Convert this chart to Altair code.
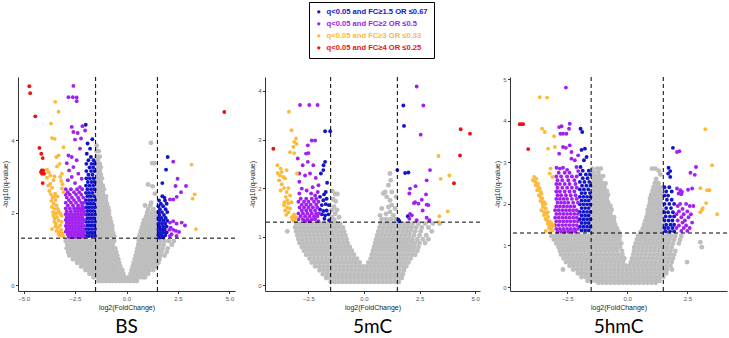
import altair as alt
import pandas as pd

# Significance classes shown in the legend, and their colours
CATEGORIES = [
    "q<0.05 and FC≥1.5 OR ≤0.67",
    "q<0.05 and FC≥2 OR ≤0.5",
    "q<0.05 and FC≥3 OR ≤0.33",
    "q<0.05 and FC≥4 OR ≤0.25",
]
COLORS = ["#1414C8", "#A020F0", "#FDB93A", "#EE1111"]
GRAY = "#BEBEBE"

# Cut-offs drawn as dashed guide lines
X_CUTS = [-1.5, 1.5]
Y_CUT = [1.3]

PANEL_TITLES = ["BS", "5mC", "5hmC"]

# Each block below is a set of rows "-log10(q): log2FC log2FC ..."
# ---------------------------------------------------------------- BS
BS_GRAY = """
3.93: 1.19
3.85: -1.45
3.7: -1.45 -1.35
3.55: -1.45 -1.3
3.45: -1.4
3.37: 1.25 1.35
3.35: -1.45 -1.3
3.25: -1.4 -1.25
3.15: -1.45 -1.3
3.05: -1.4 -1.25
2.95: -1.45 -1.3 -1.2
2.85: -1.4 -1.25
2.78: 1.05
2.75: -1.45 -1.3 -1.15
2.73: 1.27
2.65: -1.4 -1.25 -1.1
2.55: -1.45 -1.3 -1.15
2.53: 1.38
2.45: -1.4 -1.25 -1.1 -1.0
2.35: -1.45 -1.3 -1.15 -1.0
2.28: 1.2
2.25: -1.4 -1.25 -1.1 -0.95
2.2: 0.9 1.15
2.15: -1.45 -1.3 -1.15 -1.0 -0.9
2.1: 1.05 1.3
2.05: -1.4 -1.25 -1.1 -0.95 -0.85
2.0: 1.0 1.2 1.4
1.95: -1.45 -1.3 -1.15 -1.0 -0.85
1.9: 0.95 1.1 1.3 1.45
1.85: -1.4 -1.25 -1.1 -0.95 -0.8
1.8: 0.85 1.0 1.15 1.3 1.45
1.75: -1.45 -1.3 -1.15 -1.0 -0.85 -0.75
1.7: 0.8 0.95 1.1 1.25 1.4
1.65: -1.4 -1.25 -1.1 -0.95 -0.8 -0.7
1.6: 0.75 0.9 1.05 1.2 1.35 1.45
1.55: -1.45 -1.3 -1.15 -1.0 -0.85 -0.7
1.5: 0.7 0.85 1.0 1.15 1.3 1.45
1.45: -1.4 -1.25 -1.1 -0.95 -0.8 -0.65
1.4: 0.65 0.8 0.95 1.1 1.25 1.4
1.35: -1.45 -1.3 -1.15 -1.0 -0.85 -0.7 -0.6
1.32: 0.6 0.75 0.9 1.05 1.2 1.35 1.45
1.22: -2.95 -2.78 -2.61 -2.44 -2.27 -2.1 -1.93 -1.76 -1.59 -1.42 -1.25 -1.08 -0.91 -0.74 -0.6 0.6 0.77 0.94 1.11 1.28 1.45 1.65 1.85 2.05 2.3
1.12: -2.88 -2.71 -2.54 -2.37 -2.2 -2.03 -1.86 -1.69 -1.52 -1.35 -1.18 -1.01 -0.84 -0.67 0.57 0.74 0.91 1.08 1.25 1.42 1.6 1.8 2.2
1.02: -2.9 -2.73 -2.56 -2.39 -2.22 -2.05 -1.88 -1.71 -1.54 -1.37 -1.2 -1.03 -0.86 -0.69 -0.55 0.53 0.7 0.87 1.04 1.21 1.38 1.55 1.75 2.0
0.92: -2.83 -2.66 -2.49 -2.32 -2.15 -1.98 -1.81 -1.64 -1.47 -1.3 -1.13 -0.96 -0.79 -0.62 -0.5 0.5 0.67 0.84 1.01 1.18 1.35 1.52 1.7 1.95
0.82: -2.78 -2.61 -2.44 -2.27 -2.1 -1.93 -1.76 -1.59 -1.42 -1.25 -1.08 -0.91 -0.74 -0.57 -0.45 0.45 0.62 0.79 0.96 1.13 1.3 1.47 1.65 1.85
0.72: -2.6 -2.43 -2.26 -2.09 -1.92 -1.75 -1.58 -1.41 -1.24 -1.07 -0.9 -0.73 -0.56 -0.4 0.4 0.57 0.74 0.91 1.08 1.25 1.42 1.6
0.62: -2.4 -2.23 -2.06 -1.89 -1.72 -1.55 -1.38 -1.21 -1.04 -0.87 -0.7 -0.53 -0.36 0.35 0.52 0.69 0.86 1.03 1.2 1.37 1.55
0.52: -2.2 -2.03 -1.86 -1.69 -1.52 -1.35 -1.18 -1.01 -0.84 -0.67 -0.5 -0.3 0.3 0.47 0.64 0.81 0.98 1.15 1.32 1.45
0.42: -2.0 -1.83 -1.66 -1.49 -1.32 -1.15 -0.98 -0.81 -0.64 -0.47 -0.3 -0.2 0.25 0.42 0.59 0.76 0.93 1.1 1.3
0.32: -1.8 -1.63 -1.46 -1.29 -1.12 -0.95 -0.78 -0.61 -0.44 -0.27 -0.15 0.2 0.37 0.54 0.71 0.88 1.05
0.22: -1.6 -1.43 -1.26 -1.09 -0.92 -0.75 -0.58 -0.41 -0.24 -0.07 0.1 0.27 0.44 0.61 0.78 0.9
0.12: -1.35 -1.18 -1.01 -0.84 -0.67 -0.5 -0.33 -0.16 0.0 0.17 0.34 0.5
"""

BS_BLUE = """
4.43: -1.98
4.03: -1.66
3.91: -1.89
3.77: -1.77
3.63: -1.93
3.54: -1.73 2.0
3.45: -1.85 -1.6
3.35: -1.95 -1.7 -1.55
3.25: -1.8 -1.62
3.19: 1.92
3.15: -1.95 -1.72 -1.55
3.05: -1.85 -1.65
2.95: -1.95 -1.78 -1.6
2.85: -1.88 -1.7 -1.55
2.82: 1.74
2.75: -1.97 -1.8 -1.62
2.65: -1.9 -1.72 -1.55
2.55: -1.97 -1.82 -1.65
2.46: -1.9 -1.75 -1.58 1.74
2.42: 1.84
2.35: -1.97 -1.82 -1.68 -1.53
2.34: 1.58 1.87
2.25: -1.9 -1.75 -1.6 1.67 1.95
2.18: 1.55 1.78
2.15: -1.97 -1.83 -1.68 -1.53
2.1: 1.62 1.9
2.05: -1.9 -1.75 -1.6
2.02: 1.55 1.72 1.98
1.95: -1.97 -1.83 -1.68 -1.53
1.94: 1.6 1.82
1.86: 1.55 1.7 1.9
1.85: -1.9 -1.75 -1.6
1.78: 1.62 1.8 1.98
1.75: -1.97 -1.83 -1.68 -1.53
1.7: 1.55 1.72 1.88
1.65: -1.9 -1.75 -1.6
1.62: 1.6 1.78 1.95
1.55: -1.97 -1.83 -1.68 -1.53
1.54: 1.55 1.7 1.85
1.46: 1.62 1.78 1.95
1.45: -1.9 -1.75 -1.6
1.38: 1.55 1.7 1.88
1.36: -1.97 -1.83 -1.68 -1.53
1.32: 1.6 1.78
"""

BS_PURPLE = """
5.5: -2.58
5.19: -2.82 -2.61
5.18: -2.42
5.08: -2.42
4.39: -2.14
4.37: -2.66
4.27: -2.01
4.23: -2.58
4.2: -2.37
4.05: -2.21
4.02: -2.5
3.77: -2.26
3.58: -2.82
3.54: -2.66
3.45: -2.42
3.41: 2.27
3.37: -2.9
3.26: -2.58
3.17: -2.79
3.08: -2.34
2.99: -2.66
2.94: -2.18 2.48
2.9: -2.85
2.82: -2.5
2.74: 2.38 2.89
2.71: -2.26
2.65: -2.95 -2.7 -2.4 -2.15
2.57: -2.85 -2.55 -2.3 2.65
2.5: -2.95 -2.75 -2.45 -2.2
2.44: 2.44
2.42: -2.9 -2.65 -2.35 -2.1
2.37: 2.11 2.27
2.35: -2.8 -2.55 -2.3
2.28: -2.95 -2.7 -2.45 -2.2 -2.05
2.2: -2.85 -2.6 -2.35 -2.15
2.12: -2.95 -2.75 -2.55 -2.4 -2.25 -2.1
2.04: -2.9 -2.7 -2.5 -2.35 -2.2 -2.05
1.96: -2.95 -2.8 -2.65 -2.5 -2.35 -2.2 -2.05
1.88: -2.9 -2.75 -2.6 -2.45 -2.3 -2.15
1.8: -2.95 -2.8 -2.65 -2.5 -2.35 -2.2 -2.05
1.77: 2.27
1.73: 2.11 2.68
1.72: -2.9 -2.75 -2.6 -2.45 -2.3 -2.15
1.7: 2.43
1.65: 2.84
1.64: -2.95 -2.8 -2.65 -2.5 -2.35 -2.2 -2.05
1.59: 2.15
1.56: -2.9 -2.75 -2.6 -2.45 -2.3 -2.15
1.53: 2.08 2.27
1.5: 2.4
1.48: -2.95 -2.8 -2.65 -2.5 -2.35 -2.2 -2.05
1.47: 2.55
1.41: 2.19
1.4: -2.85 -2.7 -2.55 -2.4 -2.25 -2.1
1.36: 2.11 2.43
1.33: -2.8 -2.65 -2.5 -2.35 -2.2 -2.05
"""

BS_ORANGE = """
5.06: -3.46
4.79: -3.3
4.46: -3.67
4.06: -3.62
4.04: -3.49
3.81: -3.06
3.58: -3.3
3.54: -3.41
3.35: -3.25
3.33: 3.16
3.28: -3.38
3.19: -3.86
3.12: -3.78
3.08: -3.98 -3.14
3.03: -3.7
3.0: -3.5
2.99: -3.22
2.97: -3.86
2.9: -3.55
2.88: -3.17
2.8: -3.7
2.79: -3.11
2.75: -3.8
2.69: -3.62
2.67: -3.14
2.6: -3.75
2.57: -3.06
2.53: -3.46
2.51: -3.67 3.31
2.45: -3.5 -3.35
2.42: -3.59
2.39: 3.21
2.35: -3.45
2.33: -3.65
2.25: -3.54
2.2: -3.4
2.16: -3.62
2.11: -3.49 -3.33
2.05: -3.3
2.02: -3.57
1.98: -3.43 -3.22
1.92: -3.55 -3.15
1.88: -3.38
1.84: -3.49
1.79: -3.3
1.75: -3.5 -3.15
1.7: -3.43
1.65: -3.22
1.62: -3.45
1.59: -3.33
1.55: -3.62 3.37
1.53: -3.17
1.5: -3.4
1.47: -3.27
1.43: -3.11
1.4: -3.3
1.37: -3.22
1.35: -3.06
"""

BS_RED = """
5.49: -4.72
5.3: -4.68
4.78: 4.75
4.66: -4.43
3.79: -4.23
3.63: -4.14
3.51: -4.07
3.17: -4.12 -4.05
3.12: -4.15
3.08: -4.1 -4.02
2.82: -4.07
"""

# ---------------------------------------------------------------- 5mC
MC_GRAY = """
2.3: 1.17
2.16: 1.2
2.06: 1.1
1.94: -1.43
1.92: 0.95 1.25
1.89: 0.87
1.88: -1.3 -1.2
1.82: 1.02 1.44
1.77: -1.4
1.75: 1.17
1.73: -1.28
1.65: 1.25
1.62: -1.35
1.61: 1.1
1.58: 0.8 1.4
1.55: -1.45 -1.22
1.51: 1.17
1.47: -1.3 0.99
1.44: 0.72 1.32
1.4: -1.45 -1.12
1.36: 0.8 1.0 1.2 1.42
1.35: -1.33
1.27: -3.05 -2.87 -2.69 -2.51 -2.33 -2.15 -1.97 -1.79 -1.61 -1.43 -1.25 -1.07 0.75 0.93 1.11 1.29 1.47 1.65 1.83 2.01 2.2 2.45 2.75 3.1 3.4
1.19: -3.1 -2.92 -2.74 -2.56 -2.38 -2.2 -2.02 -1.84 -1.66 -1.48 -1.3 -1.12 -0.95 0.7 0.88 1.06 1.24 1.42 1.6 1.78 1.96 2.14 2.35 2.6 2.9
1.11: -3.45 -3.05 -2.87 -2.69 -2.51 -2.33 -2.15 -1.97 -1.79 -1.61 -1.43 -1.25 -1.07 -0.9 0.65 0.83 1.01 1.19 1.37 1.55 1.73 1.91 2.09 2.3 2.55 3.05
1.03: -3.0 -2.82 -2.64 -2.46 -2.28 -2.1 -1.92 -1.74 -1.56 -1.38 -1.2 -1.02 -0.84 0.6 0.78 0.96 1.14 1.32 1.5 1.68 1.86 2.04 2.25 2.5 2.8
0.95: -2.95 -2.77 -2.59 -2.41 -2.23 -2.05 -1.87 -1.69 -1.51 -1.33 -1.15 -0.97 -0.79 0.55 0.73 0.91 1.09 1.27 1.45 1.63 1.81 1.99 2.17 2.4 2.65 2.9
0.87: -2.9 -2.72 -2.54 -2.36 -2.18 -2.0 -1.82 -1.64 -1.46 -1.28 -1.1 -0.92 -0.74 0.5 0.68 0.86 1.04 1.22 1.4 1.58 1.76 1.94 2.12 2.3 2.5 2.75
0.79: -2.8 -2.62 -2.44 -2.26 -2.08 -1.9 -1.72 -1.54 -1.36 -1.18 -1.0 -0.82 -0.64 0.45 0.63 0.81 0.99 1.17 1.35 1.53 1.71 1.89 2.07 2.25 2.45
0.71: -2.7 -2.52 -2.34 -2.16 -1.98 -1.8 -1.62 -1.44 -1.26 -1.08 -0.9 -0.72 -0.55 0.4 0.58 0.76 0.94 1.12 1.3 1.48 1.66 1.84 2.02 2.2 2.4
0.63: -2.6 -2.42 -2.24 -2.06 -1.88 -1.7 -1.52 -1.34 -1.16 -0.98 -0.8 -0.62 -0.45 0.35 0.53 0.71 0.89 1.07 1.25 1.43 1.61 1.79 1.97 2.15 2.3
0.55: -2.45 -2.27 -2.09 -1.91 -1.73 -1.55 -1.37 -1.19 -1.01 -0.83 -0.65 -0.47 -0.32 0.3 0.48 0.66 0.84 1.02 1.2 1.38 1.56 1.74 1.92 2.1
0.47: -2.35 -2.17 -1.99 -1.81 -1.63 -1.45 -1.27 -1.09 -0.91 -0.73 -0.55 -0.37 -0.2 0.2 0.38 0.56 0.74 0.92 1.1 1.28 1.46 1.64 1.82 2.0
0.39: -2.2 -2.02 -1.84 -1.66 -1.48 -1.3 -1.12 -0.94 -0.76 -0.58 -0.4 -0.22 -0.05 0.12 0.3 0.48 0.66 0.84 1.02 1.2 1.38 1.56 1.74 1.9
0.31: -2.0 -1.82 -1.64 -1.46 -1.28 -1.1 -0.92 -0.74 -0.56 -0.38 -0.2 -0.02 0.16 0.34 0.52 0.7 0.88 1.06 1.24 1.42 1.6 1.8
0.23: -1.85 -1.67 -1.49 -1.31 -1.13 -0.95 -0.77 -0.59 -0.41 -0.23 -0.05 0.13 0.31 0.49 0.67 0.85 1.03 1.21 1.39 1.57 1.75
0.15: -1.7 -1.52 -1.34 -1.16 -0.98 -0.8 -0.62 -0.44 -0.26 -0.08 0.1 0.28 0.46 0.64 0.82 1.0 1.18 1.36 1.54 1.7
0.07: -1.5 -1.32 -1.14 -0.96 -0.78 -0.6 -0.42 -0.24 -0.06 0.12 0.3 0.48 0.66 0.84 1.02 1.2 1.38 1.56
"""

MC_BLUE = """
3.7: 1.77
3.28: 1.8
3.17: -1.75 -1.52
2.54: -1.75
2.47: -1.82
2.37: -1.83 1.5
2.32: 2.0
2.31: 1.85
2.3: -1.94
2.11: -1.66
1.92: -1.72
1.87: -1.8
1.82: -1.98
1.78: -1.68
1.75: -1.83
1.67: -1.72
1.65: -1.9 -1.58
1.56: -1.98
1.54: -1.68
1.53: -1.83
1.46: -1.9 -1.6
1.44: -1.75
1.42: 1.97
1.37: -1.78
1.35: 1.55
1.34: -1.57
1.32: 1.59
"""

MC_PURPLE = """
4.09: 2.37
3.71: -2.88 -2.46 -2.09
3.7: 2.67
3.1: 2.55
2.98: -2.35 -2.2
2.88: -2.53
2.72: -2.5
2.71: -2.61
2.61: -2.98
2.54: -2.53
2.47: -2.76 -2.28
2.37: 2.97
2.3: -2.91 -2.43
2.26: -2.65
2.21: -2.17
2.16: 2.82
2.13: -2.91
2.06: -2.05
2.04: 2.32
2.02: -2.31
1.99: -2.8 2.07
1.95: -2.58
1.92: -2.08
1.89: -2.91 -2.38 2.04
1.87: 2.79
1.85: -2.2
1.78: -2.85 -2.6 -2.35 -2.15
1.76: 2.6
1.72: -2.95 -2.7 -2.5 -2.25 -2.05
1.71: 2.3
1.69: 2.25
1.68: 2.45
1.66: -2.8 -2.6 -2.4 -2.15 2.82
1.65: 2.9
1.6: -2.9 -2.7 -2.5 -2.3 -2.1
1.54: -2.8 -2.6 -2.4 -2.2 2.64
1.48: -2.95 -2.75 -2.55 -2.35 -2.15 -2.02
1.47: 2.07
1.44: 2.15
1.42: -2.85 -2.65 -2.45 -2.25 -2.1
1.39: 2.82
1.37: 2.04
1.36: -2.95 -2.75 -2.55 -2.35 -2.2
1.34: 2.37 2.94
1.32: -2.65 -2.45 -2.05
"""

MC_ORANGE = """
3.57: -3.38
3.19: -3.26
3.02: -3.06
2.95: -3.14
2.91: -3.03
2.85: -3.18
2.74: -3.33
2.72: -3.14
2.66: 3.35
2.47: -3.9
2.4: -3.75
2.37: -3.48
2.33: -3.7
2.31: -3.88
2.3: -3.02
2.26: -3.78 3.84
2.23: -3.63
2.2: -3.55
2.19: 3.45
2.16: -3.82
2.08: -3.7
2.0: -3.6 -3.4
1.95: -3.75
1.92: -3.48
1.85: -3.33
1.82: -3.52
1.75: -3.45
1.71: -3.58 -3.26
1.69: -3.4
1.65: -3.6
1.6: -3.46
1.58: -3.33
1.54: -3.55
1.52: 3.77
1.5: -3.4
1.46: -3.14
1.45: -3.5
1.42: -3.18 3.39
1.4: -3.25 -3.05
1.37: -3.1
1.35: -3.22
1.33: -3.15
1.3: 3.35
"""

MC_RED = """
3.21: 4.35
3.12: 4.77
2.81: -4.08
2.67: 4.32
2.1: 4.05
"""

# ---------------------------------------------------------------- 5hmC
HMC_GRAY = """
2.85: -1.45 -1.25 -1.1 1.03 1.17
2.8: 1.31
2.76: -1.4 -1.2
2.71: 1.38
2.67: -1.45 -1.3 -1.15 -1.0
2.6: 1.2
2.58: -1.4 -1.25 -1.1
2.5: 1.15 1.3
2.49: -1.45 -1.3 -1.15 -1.0 -0.9
2.4: -1.4 -1.25 -1.1 -0.95 1.1 1.25 1.4
2.31: -1.45 -1.3 -1.15 -1.0 -0.85 1.05 1.2 1.35
2.22: -1.4 -1.25 -1.1 -0.95 -0.8 1.0 1.15 1.3 1.45
2.13: -1.45 -1.3 -1.15 -1.0 -0.85 0.95 1.1 1.25 1.4
2.04: -1.4 -1.25 -1.1 -0.95 -0.8 0.95 1.1 1.25 1.4
1.95: -1.45 -1.3 -1.15 -1.0 -0.85 -0.7 0.9 1.05 1.2 1.35
1.86: -1.4 -1.25 -1.1 -0.95 -0.8 -0.65 0.85 1.0 1.15 1.3 1.45
1.77: -1.45 -1.3 -1.15 -1.0 -0.85 -0.7 0.85 1.0 1.15 1.3 1.45
1.68: -1.4 -1.25 -1.1 -0.95 -0.8 -0.65 -0.55 0.8 0.95 1.1 1.25 1.4
1.59: -1.45 -1.3 -1.15 -1.0 -0.85 -0.7 -0.55 0.75 0.9 1.05 1.2 1.35
1.5: -1.4 -1.25 -1.1 -0.95 -0.8 -0.65 -0.5 0.7 0.85 1.0 1.15 1.3 1.45
1.41: -1.45 -1.3 -1.15 -1.0 -0.85 -0.7 -0.55 -0.42 0.65 0.8 0.95 1.1 1.25 1.4
1.32: -1.4 -1.25 -1.1 -0.95 -0.8 -0.65 -0.5 -0.36 0.55 0.7 0.85 1.0 1.15 1.3 1.45
1.23: -3.15 -2.98 -2.81 -2.64 -2.47 -2.3 -2.13 -1.96 -1.79 -1.62 -1.45 -1.28 -1.11 -0.94 -0.77 -0.6 -0.43 -0.3 0.45 0.62 0.79 0.96 1.13 1.3 1.47 1.64 1.81 2.0 2.25
1.14: -3.05 -2.88 -2.71 -2.54 -2.37 -2.2 -2.03 -1.86 -1.69 -1.52 -1.35 -1.18 -1.01 -0.84 -0.67 -0.5 -0.33 0.4 0.57 0.74 0.91 1.08 1.25 1.42 1.59 1.76 1.95 2.2
1.08: 3.04
1.05: -2.95 -2.78 -2.61 -2.44 -2.27 -2.1 -1.93 -1.76 -1.59 -1.42 -1.25 -1.08 -0.91 -0.74 -0.57 -0.4 -0.25 0.35 0.52 0.69 0.86 1.03 1.2 1.37 1.54 1.71 1.9 2.15
0.96: -2.85 -2.68 -2.51 -2.34 -2.17 -2.0 -1.83 -1.66 -1.49 -1.32 -1.15 -0.98 -0.81 -0.64 -0.47 -0.3 0.3 0.47 0.64 0.81 0.98 1.15 1.32 1.49 1.66 1.85 3.1
0.87: -2.8 -2.63 -2.46 -2.29 -2.12 -1.95 -1.78 -1.61 -1.44 -1.27 -1.1 -0.93 -0.76 -0.59 -0.42 -0.22 0.28 0.45 0.62 0.79 0.96 1.13 1.3 1.47 1.64 1.8 2.0
0.78: -2.75 -2.58 -2.41 -2.24 -2.07 -1.9 -1.73 -1.56 -1.39 -1.22 -1.05 -0.88 -0.71 -0.54 -0.37 -0.2 0.25 0.42 0.59 0.76 0.93 1.1 1.27 1.44 1.61 1.78 1.95
0.69: -2.65 -2.48 -2.31 -2.14 -1.97 -1.8 -1.63 -1.46 -1.29 -1.12 -0.95 -0.78 -0.61 -0.44 -0.27 -0.12 0.2 0.37 0.54 0.71 0.88 1.05 1.22 1.39 1.56 1.73 1.9
0.6: -2.55 -2.38 -2.21 -2.04 -1.87 -1.7 -1.53 -1.36 -1.19 -1.02 -0.85 -0.68 -0.51 -0.34 -0.17 0.15 0.32 0.49 0.66 0.83 1.0 1.17 1.34 1.51 1.68 1.85 2.49
0.51: -2.4 -2.23 -2.06 -1.89 -1.72 -1.55 -1.38 -1.21 -1.04 -0.87 -0.7 -0.53 -0.36 -0.19 -0.05 0.1 0.27 0.44 0.61 0.78 0.95 1.12 1.29 1.46 1.63 1.8
0.42: -2.67 -2.25 -2.08 -1.91 -1.74 -1.57 -1.4 -1.23 -1.06 -0.89 -0.72 -0.55 -0.38 -0.21 -0.04 0.13 0.3 0.47 0.64 0.81 0.98 1.15 1.32 1.49 1.66 1.86
0.33: -2.05 -1.88 -1.71 -1.54 -1.37 -1.2 -1.03 -0.86 -0.69 -0.52 -0.35 -0.18 -0.01 0.16 0.33 0.5 0.67 0.84 1.01 1.18 1.35 1.52 1.62
0.24: -1.9 -1.73 -1.56 -1.39 -1.22 -1.05 -0.88 -0.71 -0.54 -0.37 -0.2 -0.03 0.14 0.31 0.48 0.65 0.82 0.99 1.16 1.33 1.5
0.15: -1.65 -1.48 -1.31 -1.14 -0.97 -0.8 -0.63 -0.46 -0.29 -0.12 0.05 0.22 0.39 0.56 0.73 0.9 1.07 1.24 1.35
0.1: -1.2 -1.03 -0.86 -0.69 -0.52 -0.35 -0.18 -0.01 0.16 0.33 0.5 0.67 0.84 1.01 1.18
"""

HMC_BLUE = """
3.81: -1.94
3.73: -1.87
3.35: 1.9
3.33: -1.76
3.3: -1.9
3.13: -1.69
3.05: -1.8
2.89: -1.94
2.87: 1.72
2.8: -1.85 -1.6
2.79: 1.79
2.73: 1.7
2.71: -1.95 -1.72 -1.55
2.65: 1.79
2.62: -1.85 -1.65
2.53: -1.97 -1.78 -1.58
2.44: -1.88 -1.7 -1.53
2.4: 1.55 1.75
2.35: -1.97 -1.8 -1.62
2.3: 1.62 1.85
2.26: -1.9 -1.75 -1.55
2.2: 1.55 1.7
2.17: -1.97 -1.82 -1.67 -1.53
2.1: 1.65 1.85
2.08: -1.9 -1.75 -1.6
2.0: 1.55 1.75 1.95
1.99: -1.97 -1.82 -1.67 -1.53
1.9: -1.9 -1.75 -1.6 1.62 1.82
1.81: -1.97 -1.82 -1.67 -1.53
1.8: 1.55 1.7 1.9
1.72: -1.9 -1.75 -1.6
1.7: 1.6 1.78 1.95
1.63: -1.97 -1.82 -1.67 -1.53
1.6: 1.55 1.72 1.88
1.54: -1.9 -1.75 -1.6
1.5: 1.62 1.8 1.95
1.45: -1.97 -1.82 -1.67 -1.53
1.42: 1.55 1.7 1.88
1.36: -1.9 -1.75 -1.6
1.34: 1.6 1.78 1.95
"""

HMC_PURPLE = """
4.8: -2.55
3.93: -2.39
3.87: -2.73
3.85: -2.83
3.81: -2.42
3.69: -2.78 -2.67 -2.53
3.41: -2.39
3.37: -2.67
3.35: -2.55
3.27: 2.17
3.25: -2.32 2.07
3.21: -2.83
3.17: -2.04
3.09: -2.32
3.05: -2.18
2.89: -2.11 2.86
2.87: -2.94 -2.67
2.85: -2.8
2.82: -2.5
2.79: -2.04
2.75: -2.85 -2.6 -2.4 2.63
2.7: 2.81
2.66: -2.95 -2.75 -2.5 -2.3 -2.1
2.57: -2.9 -2.7 -2.45 -2.2
2.48: -2.95 -2.8 -2.6 -2.4 -2.15
2.39: -2.9 -2.7 -2.5 -2.3 -2.1
2.37: 2.07 2.7
2.34: 2.53
2.33: 2.21
2.3: -2.95 -2.8 -2.6 -2.4 -2.2
2.29: 2.28
2.25: 2.14
2.23: 2.25
2.21: -2.9 -2.75 -2.55 -2.35 -2.15
2.12: -2.95 -2.8 -2.65 -2.5 -2.3 -2.1
2.03: -2.9 -2.75 -2.6 -2.45 -2.25 -2.05
2.0: 2.2 2.45
1.95: 2.1 2.6 2.75
1.94: -2.95 -2.8 -2.65 -2.5 -2.35 -2.2
1.88: 2.3
1.85: -3.0 -2.85 -2.7 -2.55 -2.4 -2.25 -2.1
1.82: 2.15 2.5
1.76: -2.95 -2.8 -2.65 -2.5 -2.35 -2.2 -2.05
1.75: 2.05 2.35 2.65
1.68: 2.25 2.55
1.67: -3.0 -2.85 -2.7 -2.55 -2.4 -2.25 -2.1
1.6: 2.1 2.4
1.58: -2.95 -2.8 -2.65 -2.5 -2.35 -2.2 -2.05
1.55: 2.3 2.7
1.49: -3.0 -2.85 -2.7 -2.55 -2.4 -2.25 -2.1
1.48: 2.15 2.45
1.42: 2.05 2.35 2.6
1.4: -2.95 -2.8 -2.65 -2.5 -2.35 -2.2 -2.05
1.35: 2.25 2.5
1.33: -2.9 -2.75 -2.6 -2.45 -2.3 -2.15
"""

HMC_ORANGE = """
4.57: -3.64
4.56: -3.33
3.81: -3.54
3.8: 3.25
3.73: -3.43
3.63: -3.04
3.37: -3.01
3.33: -3.29
2.93: 3.53
2.85: -3.19
2.73: -3.22
2.65: -3.11 -3.87
2.61: -3.78
2.57: -3.92
2.53: -3.82
2.49: -3.71
2.45: -3.8
2.41: -3.7
2.38: 3.04
2.37: -3.64
2.33: -3.74 3.32 3.42
2.29: -3.6
2.25: -3.57
2.21: -3.67
2.17: -3.62
2.13: -3.54
2.07: -3.61
2.05: -3.47
2.02: 3.28
2.0: -3.52 -3.4
1.93: -3.5
1.9: 3.14
1.89: -3.39
1.86: 3.11
1.85: -3.57
1.8: -3.45 -3.3 3.04
1.77: -3.36
1.75: 3.74
1.73: -3.46
1.69: -3.29
1.64: -3.4
1.6: -3.33
1.57: -3.22
1.53: -3.15
1.52: -3.3
1.49: -3.25
1.48: -3.08
1.44: -3.15
1.42: -3.25
1.4: -3.19
1.36: -3.11
1.35: -3.39
1.32: -3.2
"""

HMC_RED = """
3.92: -4.47 -4.4 -4.33
3.32: -4.12
"""


def parse(rows):
    pts = []
    for line in rows.strip().splitlines():
        y, xs = line.split(":")
        pts += [(float(x), float(y)) for x in xs.split()]
    return pts


LEGEND = alt.Legend(
    title=None,
    orient="none",
    legendX=291,
    legendY=-75,
    values=CATEGORIES,
    strokeColor="black",
    fillColor="white",
    padding=6,
    rowPadding=3,
    symbolType="circle",
    symbolSize=11,
    symbolStrokeWidth=0,
    labelFont="Liberation Sans",
    labelFontSize=7.6,
    labelFontWeight="bold",
    labelOffset=4,
    labelLimit=300,
    labelColor=alt.ExprRef(expr="scale('color', datum.value)"),
)


def panel(title, gray, blue, purple, orange, red, xdom, ydom, xticks, yticks, width):
    gdf = pd.DataFrame(parse(gray), columns=["x", "y"])
    frames = []
    for cat, rows in zip(CATEGORIES, [blue, purple, orange, red]):
        d = pd.DataFrame(parse(rows), columns=["x", "y"])
        d["group"] = cat
        frames.append(d)
    cdf = pd.concat(frames, ignore_index=True)

    x = alt.X("x:Q", scale=alt.Scale(domain=xdom, nice=False, zero=False),
              axis=alt.Axis(values=xticks, format=".1f", title="log2(FoldChange)"))
    y = alt.Y("y:Q", scale=alt.Scale(domain=ydom, nice=False, zero=False),
              axis=alt.Axis(values=yticks, format="d", title="-log10(q-value)"))

    gray_pts = alt.Chart(gdf).mark_circle(size=24, color=GRAY, opacity=1).encode(x=x, y=y)
    sig_pts = alt.Chart(cdf).mark_circle(size=15, opacity=1).encode(
        x=x, y=y,
        color=alt.Color("group:N", scale=alt.Scale(domain=CATEGORIES, range=COLORS),
                        legend=LEGEND),
    )
    vlines = alt.Chart(pd.DataFrame({"x": X_CUTS})).mark_rule(
        color="black", strokeDash=[4, 3], strokeWidth=1).encode(x=x)
    hline = alt.Chart(pd.DataFrame({"y": Y_CUT})).mark_rule(
        color="black", strokeDash=[4, 3], strokeWidth=1).encode(y=y)

    return alt.layer(gray_pts, sig_pts, vlines, hline).properties(
        width=width, height=214,
        title=alt.TitleParams(title, orient="bottom", fontSize=19,
                              font="Lato", fontWeight="normal",
                              color="black", offset=8, anchor="middle"),
    )


p_bs = panel(PANEL_TITLES[0], BS_GRAY, BS_BLUE, BS_PURPLE, BS_ORANGE, BS_RED,
             [-5.27, 5.27], [-0.157, 5.746], [-5, -2.5, 0, 2.5, 5], [0, 2, 4], 217)
p_mc = panel(PANEL_TITLES[1], MC_GRAY, MC_BLUE, MC_PURPLE, MC_ORANGE, MC_RED,
             [-4.455, 5.22], [-0.117, 4.286], [-2.5, 0, 2.5, 5], [0, 1, 2, 3, 4], 215)
p_hmc = panel(PANEL_TITLES[2], HMC_GRAY, HMC_BLUE, HMC_PURPLE, HMC_ORANGE, HMC_RED,
              [-4.875, 4.15], [-0.096, 5.055], [-2.5, 0, 2.5], [0, 1, 2, 3, 4, 5], 217)

chart = alt.hconcat(p_bs, p_mc, p_hmc, spacing=12).properties(
    padding={"left": 1, "top": 1, "right": 0, "bottom": 0},
).configure_view(stroke=None).configure_axis(
    grid=False,
    domainColor="#333333",
    domainWidth=1,
    tickColor="#333333",
    tickSize=2.5,
    labelFont="Liberation Sans",
    labelFontSize=6,
    labelColor="#555555",
    labelPadding=1.5,
    labelFlush=False,
    labelOverlap=False,
    titleFont="Liberation Sans",
    titleFontSize=7,
    titleFontWeight="normal",
    titleColor="#222222",
    titlePadding=2,
)

chart.save("out.html", embed_options={"renderer": "svg", "actions": False})
